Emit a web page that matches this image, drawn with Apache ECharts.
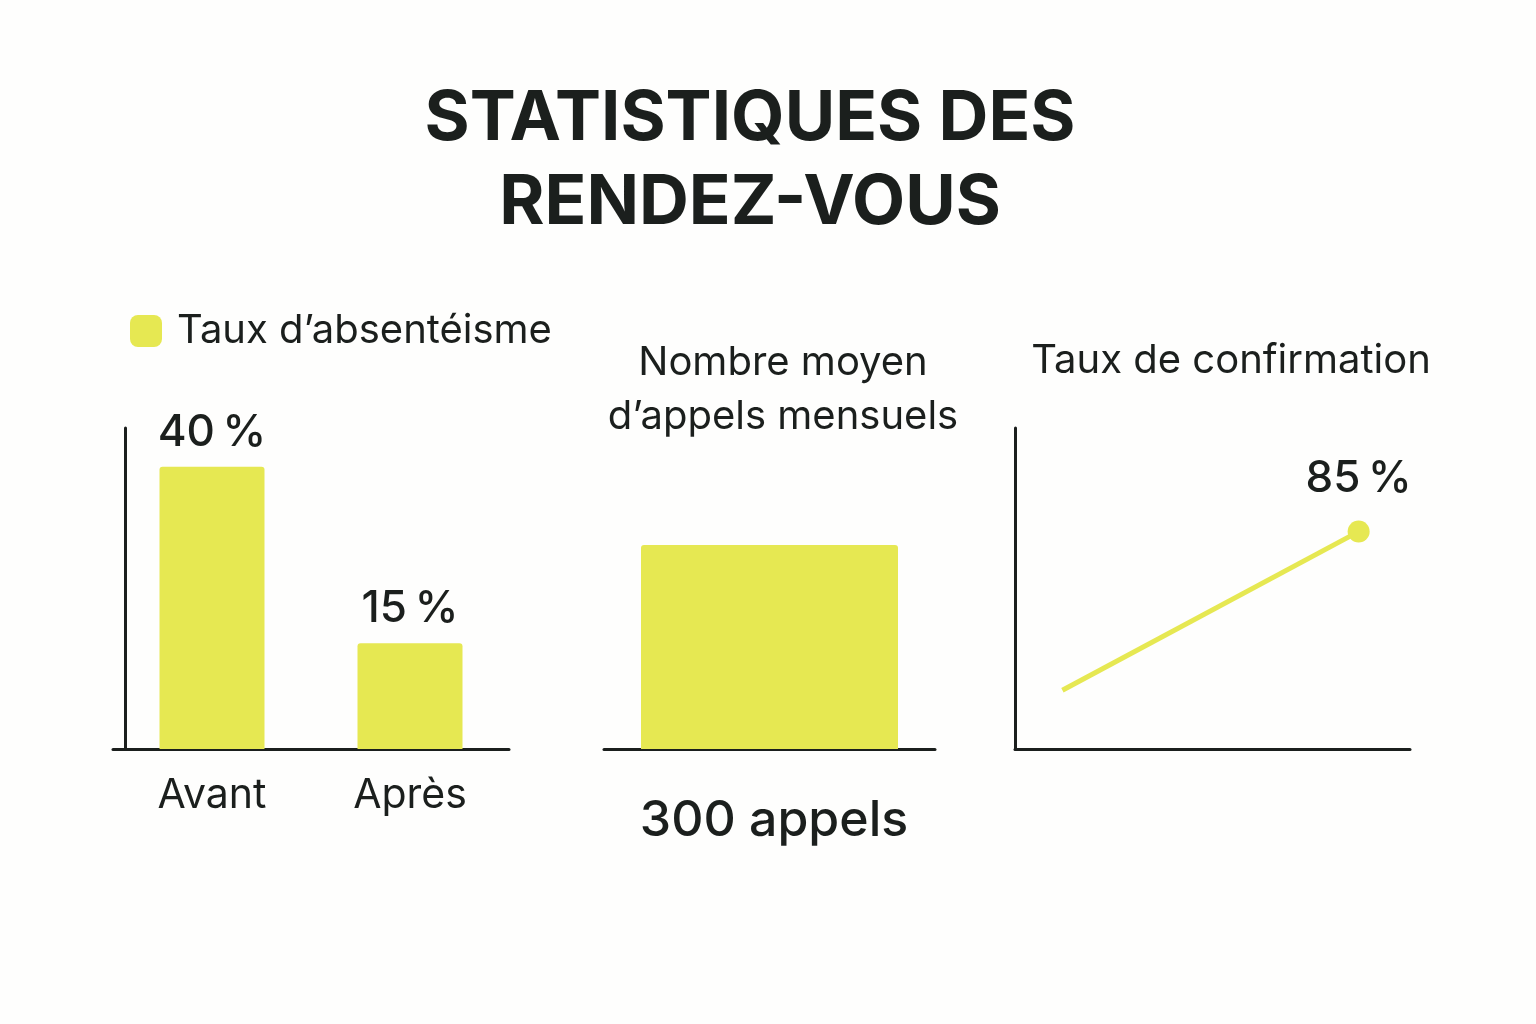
<!DOCTYPE html>
<html><head><meta charset="utf-8">
<script src="https://cdn.jsdelivr.net/npm/echarts@6/dist/echarts.min.js"></script>
<style>html,body{margin:0;background:#fefefd}#c{width:1536px;height:1024px}</style>
</head><body><div id="c"></div>
<script>
const absCategories = ['Avant', 'Après'];
const absValues = [40, 15];
const callsValue = [300];
const confirmPoints = [[0.12, 23], [0.87, 85]];
const yellow = '#e6e852';
const ink = '#1b1f1d';
const F = 'Inter, "Noto Sans", sans-serif';
const axLine = {show:true, lineStyle:{color:ink, width:3}};
const pct = '\u2009%';
const chart = echarts.init(document.getElementById('c'));
chart.setOption({
  backgroundColor:'#fefefd',
  animation:false,
  title:[
    {text:'STATISTIQUES DES\nRENDEZ-VOUS', left:745, top:72, textAlign:'center',
     textStyle:{fontFamily:F, fontWeight:'bold', fontSize:69, lineHeight:84, color:ink}},
    {text:'Nombre moyen\nd’appels mensuels', left:778, top:331, textAlign:'center',
     textStyle:{fontFamily:F, fontWeight:'normal', fontSize:40, lineHeight:54, color:ink}},
    {text:'Taux de confirmation', left:1226, top:336, textAlign:'center',
     textStyle:{fontFamily:F, fontWeight:'normal', fontSize:40, color:ink}},
    {text:'300 appels', left:769, top:791, textAlign:'center',
     textStyle:{fontFamily:F, fontWeight:500, fontSize:50, color:ink}}
  ],
  legend:{left:125, top:306, itemWidth:32, itemHeight:32, itemGap:10,
    icon:'roundRect', data:['Taux d’absentéisme'],
    textStyle:{fontFamily:F, fontSize:40, color:ink, padding:[0,0,0,10]}},
  grid:[
    {left:113, top:428, width:396, height:321},
    {left:604, top:428, width:331, height:321},
    {left:1015, top:428, width:395, height:321}
  ],
  xAxis:[
    {gridIndex:0, type:'category', data:absCategories, axisLine:axLine, axisTick:{show:false},
     axisLabel:{fontFamily:F, fontSize:41, color:ink, margin:26}},
    {gridIndex:1, type:'category', data:[''], axisLine:axLine, axisTick:{show:false}, axisLabel:{show:false}},
    {gridIndex:2, type:'value', min:0, max:1, axisLine:axLine, axisTick:{show:false}, axisLabel:{show:false}, splitLine:{show:false}}
  ],
  yAxis:[
    {gridIndex:0, type:'value', min:0, max:45.5, offset:-12, axisLine:axLine, axisTick:{show:false}, axisLabel:{show:false}, splitLine:{show:false}},
    {gridIndex:1, type:'value', min:0, max:472, axisLine:{show:false}, axisTick:{show:false}, axisLabel:{show:false}, splitLine:{show:false}},
    {gridIndex:2, type:'value', min:0, max:125.5, axisLine:axLine, axisTick:{show:false}, axisLabel:{show:false}, splitLine:{show:false}}
  ],
  series:[
    {name:'Taux d’absentéisme', type:'bar', xAxisIndex:0, yAxisIndex:0, data:absValues, barWidth:105,
     itemStyle:{color:yellow, borderRadius:[3,3,0,0]},
     label:{show:true, position:'top', distance:12, formatter:p=>p.value+pct, fontFamily:F, fontSize:44, fontWeight:500, color:ink}},
    {name:'calls', type:'bar', xAxisIndex:1, yAxisIndex:1, data:callsValue, barWidth:257,
     itemStyle:{color:yellow, borderRadius:[3,3,0,0]}},
    {name:'conf', type:'line', xAxisIndex:2, yAxisIndex:2, data:confirmPoints,
     lineStyle:{color:yellow, width:5}, symbol:'circle',
     symbolSize:(v,p)=>p.dataIndex===1?22:0,
     itemStyle:{color:yellow},
     label:{show:true, position:'top', distance:20, fontFamily:F, fontSize:44, fontWeight:500, color:ink,
       formatter:p=>p.dataIndex===1?p.value[1]+pct:''}}
  ]
});
</script></body></html>
